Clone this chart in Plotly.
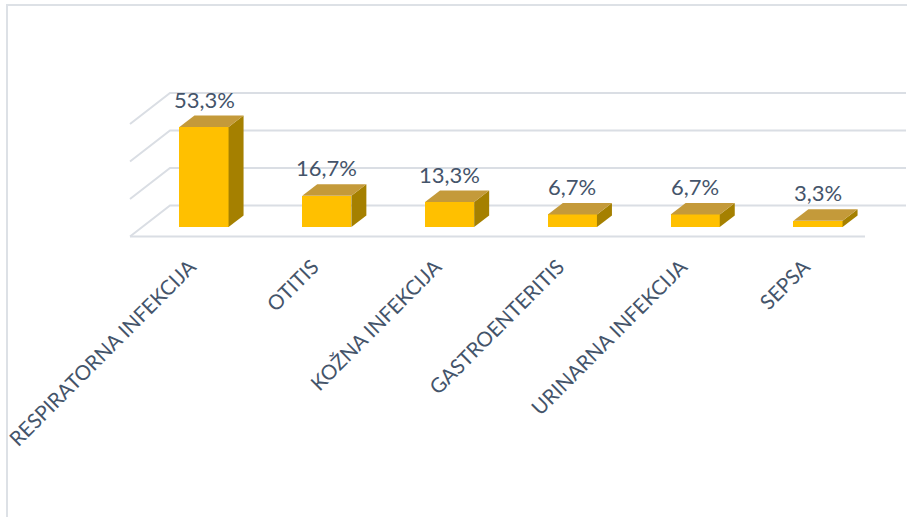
import plotly.graph_objects as go

categories = ["RESPIRATORNA INFEKCIJA", "OTITIS", "KOŽNA INFEKCIJA",
              "GASTROENTERITIS", "URINARNA INFEKCIJA", "SEPSA"]
values = [53.3, 16.7, 13.3, 6.7, 6.7, 3.3]
grid_values = [0, 20, 40, 60]

W, H = 907, 517
PX_X = 122.8          # px per category
PX_Y = 1.876          # px per percent
X0_PX, Y0_PX = 204, 227
PLOT_BOTTOM = 250

x_range = [(0 - X0_PX) / PX_X, (W - X0_PX) / PX_X]
y_range = [(Y0_PX - PLOT_BOTTOM) / PX_Y, (Y0_PX - 0) / PX_Y]

def dx(px):
    return px / PX_X

def dy(px):
    return px / PX_Y

bar_w = 0.4
ddx, ddy = dx(15), dy(11.5)

xs = list(range(len(categories)))

fig = go.Figure()
fig.add_trace(go.Bar(x=xs, y=values, width=bar_w, marker=dict(color="#FFC000", line=dict(width=0)),
                     hoverinfo="skip", showlegend=False))

shapes = []
front_off_y = -dy(9.5)
back_off_y = dy(21.5)
left_x = (130 - X0_PX) / PX_X
back_left_x = (170 - X0_PX) / PX_X
back_right_x = (906 - X0_PX) / PX_X
front_right_x = (865 - X0_PX) / PX_X
grid_col = "#DADEE4"
for g in grid_values:
    yf = g + front_off_y
    yb = g + back_off_y
    shapes.append(dict(type="path", xref="x", yref="y", layer="below",
                       path=f"M {left_x},{yf} L {back_left_x},{yb} L {back_right_x},{yb}",
                       line=dict(color=grid_col, width=2)))
shapes.append(dict(type="line", xref="x", yref="y", layer="below",
                   x0=left_x, y0=front_off_y, x1=front_right_x, y1=front_off_y,
                   line=dict(color=grid_col, width=2)))

for i, v in zip(xs, values):
    l, r = i - bar_w / 2, i + bar_w / 2
    shapes.append(dict(type="path", xref="x", yref="y", layer="above",
                       path=f"M {r},0 L {r+ddx},{ddy} L {r+ddx},{v+ddy} L {r},{v} Z",
                       fillcolor="#A58000", line=dict(width=0)))
    shapes.append(dict(type="path", xref="x", yref="y", layer="above",
                       path=f"M {l},{v} L {l+ddx},{v+ddy} L {r+ddx},{v+ddy} L {r},{v} Z",
                       fillcolor="#C49A3A", line=dict(width=0)))

border_col = "#DDE1E6"
shapes.append(dict(type="line", xref="paper", yref="paper",
                   x0=7 / W, x1=7 / W, y0=(PLOT_BOTTOM - 5) / PLOT_BOTTOM, y1=(PLOT_BOTTOM - 517) / PLOT_BOTTOM,
                   line=dict(color=border_col, width=2)))
shapes.append(dict(type="line", xref="paper", yref="paper",
                   x0=6 / W, x1=907 / W, y0=(PLOT_BOTTOM - 5) / PLOT_BOTTOM, y1=(PLOT_BOTTOM - 5) / PLOT_BOTTOM,
                   line=dict(color=border_col, width=2)))

annotations = []
for i, v in zip(xs, values):
    annotations.append(dict(x=i, y=v + ddy, xref="x", yref="y", text=f"{v:.1f}%".replace(".", ","),
                            showarrow=False, yanchor="bottom", yshift=1,
                            font=dict(family="Lato", size=22, color="#44546A")))

fig.update_layout(
    width=W, height=H,
    margin=dict(l=0, r=0, t=0, b=H - PLOT_BOTTOM),
    paper_bgcolor="white", plot_bgcolor="white",
    shapes=shapes, annotations=annotations,
    xaxis=dict(range=x_range, tickvals=xs, ticktext=categories, tickangle=-45,
               showgrid=False, zeroline=False, showline=False, ticks="",
               ticklabelshift=-14,
               tickfont=dict(family="Lato", size=20.5, color="#44546A"), fixedrange=True),
    yaxis=dict(range=y_range, visible=False, fixedrange=True),
    bargap=0,
)

fig.write_html("out.html", config={"displayModeBar": False},
               post_script="document.body.style.margin='0';document.body.style.overflow='hidden';")
